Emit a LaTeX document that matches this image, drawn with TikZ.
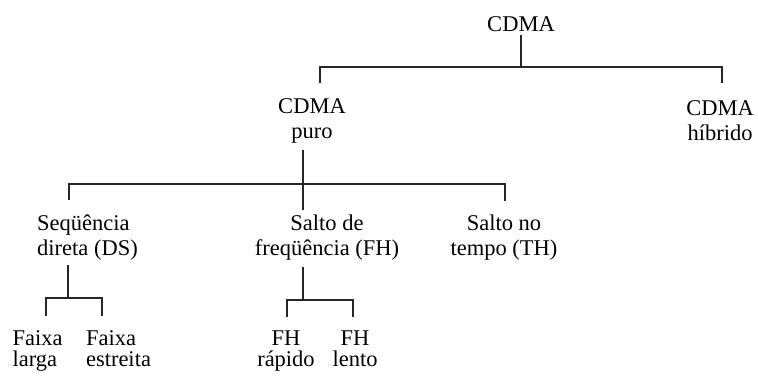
\documentclass[tikz,border=0pt]{standalone}
\usepackage{fontspec}
\setmainfont{Liberation Serif}
\begin{document}
\begin{tikzpicture}[x=1pt,y=-1pt,
  lbl/.style={inner sep=0pt,anchor=base,align=center,
    font=\fontsize{22.5}{25}\selectfont},
  lbll/.style={lbl,align=left},
  lowlbl/.style={font=\fontsize{22.5}{21}\selectfont},
  wire/.style={draw=black!85,line width=1.3pt}]
\useasboundingbox (0,0) rectangle (758,375);

% labels (placed by the baseline of their last line)
\node[lbl]  (cdma)  at (521,31)  {CDMA};
\node[lbl]  (puro)  at (312,138) {CDMA\\puro};
\node[lbl]  (hib)   at (720,140) {CDMA\\híbrido};
\node[lbll] (ds)    at (87.5,255) {Seqüência\\direta (DS)};
\node[lbl]  (fh)    at (327,255) {Salto de\\freqüência (FH)};
\node[lbl]  (th)    at (504,255) {Salto no\\tempo (TH)};
\node[lbll,lowlbl] (fl)  at (37.5,366) {Faixa\\larga};
\node[lbll,lowlbl] (fe)  at (118.5,366) {Faixa\\estreita};
\node[lbl,lowlbl]  (fhr) at (286,366) {FH\\rápido};
\node[lbl,lowlbl]  (fhl) at (355,366) {FH\\lento};

% joints of the tree
\coordinate (cdma-o) at (521,35);
\coordinate (cdma-j) at (521,67);
\coordinate (puro-i) at (320,83);
\coordinate (hib-i)  at (722,83);

\coordinate (puro-o) at (303,150);
\coordinate (puro-j) at (303,184);
\coordinate (ds-i)   at (69,200);
\coordinate (fh-i)   at (303,210);
\coordinate (th-i)   at (505,201);

\coordinate (ds-o)   at (68,265);
\coordinate (ds-j)   at (68,298);
\coordinate (fl-i)   at (46,316);
\coordinate (fe-i)   at (102,316);

\coordinate (fh-o)   at (303,267);
\coordinate (fh-j)   at (303,300);
\coordinate (fhr-i)  at (287,317);
\coordinate (fhl-i)  at (353,317);

% connectors
\draw[wire] (cdma-o) -- (cdma-j);
\draw[wire] (puro-i) -- (puro-i |- cdma-j) -- (hib-i |- cdma-j) -- (hib-i);

\draw[wire] (puro-o) -- (fh-i);
\draw[wire] (ds-i) -- (ds-i |- puro-j) -- (th-i |- puro-j) -- (th-i);

\draw[wire] (ds-o) -- (ds-j);
\draw[wire] (fl-i) -- (fl-i |- ds-j) -- (fe-i |- ds-j) -- (fe-i);

\draw[wire] (fh-o) -- (fh-j);
\draw[wire] (fhr-i) -- (fhr-i |- fh-j) -- (fhl-i |- fh-j) -- (fhl-i);
\end{tikzpicture}
\end{document}
